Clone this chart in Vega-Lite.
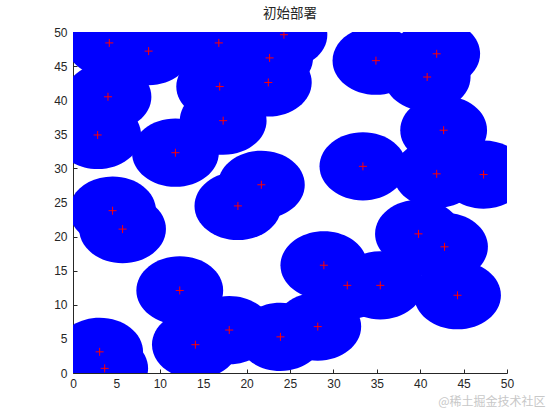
{
  "$schema": "https://vega.github.io/schema/vega-lite/v6.json",
  "width": 434,
  "height": 341,
  "autosize": {"type": "none"},
  "padding": {"left": 73, "top": 32, "right": 53, "bottom": 47},
  "background": "white",
  "config": {"view": {"stroke": null}},
  "title": {"text": "初始部署", "font": "Noto Sans CJK SC", "fontSize": 13.5, "fontWeight": "normal", "color": "#262626", "offset": 6},
  "data": {"values": [
    {"x": 4.18, "y": 48.4}, {"x": 8.71, "y": 47.2}, {"x": 16.8, "y": 48.4}, {"x": 24.3, "y": 49.6},
    {"x": 22.65, "y": 46.2}, {"x": 4.03, "y": 40.5}, {"x": 16.9, "y": 42.0}, {"x": 22.5, "y": 42.6},
    {"x": 2.84, "y": 34.9}, {"x": 17.3, "y": 37.0}, {"x": 11.8, "y": 32.3}, {"x": 21.7, "y": 27.6},
    {"x": 34.9, "y": 45.8}, {"x": 41.9, "y": 46.8}, {"x": 40.8, "y": 43.4}, {"x": 42.7, "y": 35.6},
    {"x": 33.4, "y": 30.3}, {"x": 41.9, "y": 29.2}, {"x": 47.3, "y": 29.1},
    {"x": 4.56, "y": 23.8}, {"x": 5.71, "y": 21.1}, {"x": 19.0, "y": 24.5}, {"x": 12.3, "y": 12.1},
    {"x": 18.0, "y": 6.3}, {"x": 14.1, "y": 4.15}, {"x": 23.9, "y": 5.3}, {"x": 3.07, "y": 3.1},
    {"x": 3.65, "y": 0.68},
    {"x": 39.8, "y": 20.4}, {"x": 42.8, "y": 18.5}, {"x": 28.9, "y": 15.8}, {"x": 31.6, "y": 12.85},
    {"x": 35.4, "y": 12.85}, {"x": 44.3, "y": 11.4}, {"x": 28.2, "y": 6.8}
  ]},
  "encoding": {
    "x": {"field": "x", "type": "quantitative", "scale": {"domain": [0, 50], "nice": false},
      "axis": {"values": [0,5,10,15,20,25,30,35,40,45,50], "title": "@稀土掘金技术社区", "titleFont": "Noto Sans CJK SC", "titleFontSize": 12, "titleFontWeight": "normal", "titleColor": "#c8c8c8", "titleX": 472, "titleY": 28, "titleAlign": "right", "titleBaseline": "middle", "labelFont": "Liberation Sans", "labelFontSize": 12, "labelColor": "#262626", "domainColor": "#262626", "tickColor": "#262626", "tickSize": -4, "labelPadding": 9, "grid": false, "labelFlush": false}},
    "y": {"field": "y", "type": "quantitative", "scale": {"domain": [0, 50], "nice": false},
      "axis": {"values": [0,5,10,15,20,25,30,35,40,45,50], "title": null, "labelFont": "Liberation Sans", "labelFontSize": 12, "labelColor": "#262626", "domainColor": "#262626", "tickColor": "#262626", "tickSize": -4, "labelPadding": 10, "grid": false, "labelFlush": false}}
  },
  "layer": [
    {"mark": {"type": "point", "filled": true, "clip": true, "color": "#0000ff", "opacity": 1, "size": 7534,
      "shape": "M1,0 C1,0.4342 0.5523,0.786 0,0.786 C-0.5523,0.786 -1,0.4342 -1,0 C-1,-0.4342 -0.5523,-0.786 0,-0.786 C0.5523,-0.786 1,-0.4342 1,0 Z"}},
    {"mark": {"type": "point", "filled": false, "clip": true, "color": "#ff0000", "opacity": 1, "strokeWidth": 1, "size": 64, "shape": "M-1,0 L1,0 M0,-1 L0,1"}}
  ]
}
